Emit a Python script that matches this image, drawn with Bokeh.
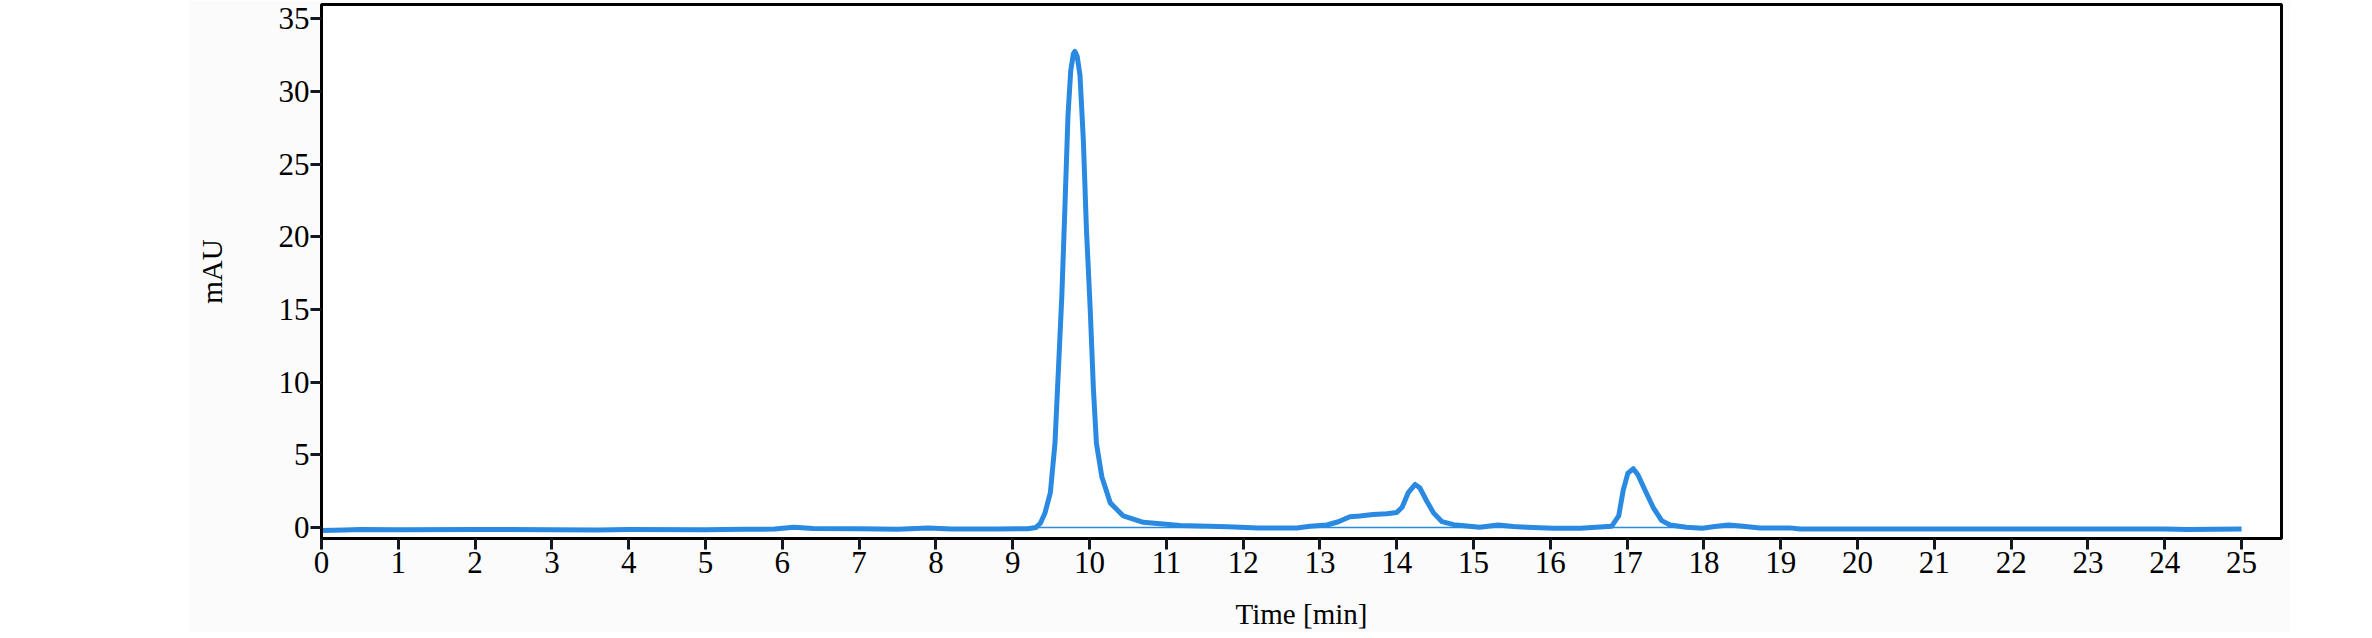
from bokeh.plotting import figure
from bokeh.models import Range1d, FixedTicker, Spacer
from bokeh.layouts import row
from bokeh.embed import file_html
from bokeh.resources import INLINE

# ---- data ----
time_min = [0, 0.3, 0.5, 1.0, 2.0, 3.0, 3.6, 4.0, 5.0, 5.5, 5.9, 6.15, 6.4, 7.0, 7.5, 7.9, 8.2, 8.8,
            9.2, 9.3, 9.36, 9.42, 9.49, 9.55, 9.59, 9.64, 9.68, 9.72, 9.755, 9.79, 9.81, 9.84, 9.876,
            9.92, 9.96, 10.01, 10.05, 10.09, 10.16, 10.27, 10.44, 10.70, 11.18, 11.8, 12.2, 12.7,
            12.87, 13.09, 13.24, 13.39, 13.52, 13.69, 13.87, 14.0, 14.07, 14.15, 14.24, 14.30, 14.39,
            14.48, 14.59, 14.74, 15.08, 15.32, 15.52, 15.69, 16.04, 16.39, 16.80, 16.89, 16.95, 17.01,
            17.08, 17.14, 17.23, 17.34, 17.45, 17.56, 17.77, 17.98, 18.14, 18.32, 18.51, 18.73, 19.12,
            19.25, 20.0, 22.0, 24.0, 24.3, 25.0]
signal_mau = [-0.2, -0.17, -0.13, -0.14, -0.13, -0.14, -0.16, -0.13, -0.14, -0.12, -0.1, 0.02, -0.06,
              -0.08, -0.11, -0.02, -0.09, -0.1,
              -0.08, 0.0, 0.3, 1.0, 2.4, 5.8, 10.3, 16.0, 22.1, 28.4, 31.4, 32.6, 32.75, 32.4, 31.1,
              26.6, 20.5, 14.9, 9.6, 5.8, 3.5, 1.7, 0.8, 0.36, 0.14, 0.05, -0.03, -0.03,
              0.09, 0.18, 0.4, 0.75, 0.8, 0.9, 0.95, 1.04, 1.4, 2.4, 2.97, 2.74, 1.83,
              1.0, 0.41, 0.2, 0.02, 0.18, 0.07, 0.03, -0.05, -0.05, 0.1, 0.8, 2.6, 3.75,
              4.05, 3.64, 2.6, 1.38, 0.48, 0.18, 0.02, -0.05, 0.07, 0.18, 0.09, -0.02, -0.02,
              -0.1, -0.1, -0.1, -0.1, -0.13, -0.1]

# integration baselines drawn under the peaks
baseline_start = [9.3, 12.8, 16.8]
baseline_end = [11.5, 15.9, 18.9]
baseline_level = [0.0, 0.0, 0.0]

x_ticks = list(range(0, 26))
y_ticks = [0, 5, 10, 15, 20, 25, 30, 35]

x_label = "Time [min]"
y_label = "mAU"

BLUE = "#2a8ae2"

p = figure(width=2101, height=632,
           x_range=Range1d(0, 25.52), y_range=Range1d(-0.75, 35.98),
           output_backend="svg", toolbar_location=None,
           min_border_left=132, min_border_right=9, min_border_top=4, min_border_bottom=87)

p.background_fill_color = "#ffffff"
p.border_fill_color = "#fbfbfb"
p.outline_line_color = "black"
p.outline_line_width = 3
p.grid.visible = False

# baselines
p.segment(x0=baseline_start, x1=baseline_end, y0=baseline_level, y1=baseline_level,
          line_color=BLUE, line_width=1.5)
# chromatogram trace
p.line(time_min, signal_mau, line_color=BLUE, line_width=5, line_join="round")

for ax in (p.xaxis, p.yaxis):
    ax.axis_line_color = "black"
    ax.axis_line_width = 3
    ax.major_tick_line_color = "#111820"
    ax.major_tick_line_width = 3
    ax.major_tick_in = 0
    ax.minor_tick_line_color = None
    ax.major_label_text_font = "Liberation Serif"
    ax.major_label_text_font_size = "31px"
    ax.major_label_text_color = "black"
    ax.axis_label_text_font = "Liberation Serif"
    ax.axis_label_text_font_size = "29px"
    ax.axis_label_text_font_style = "normal"
    ax.axis_label_text_color = "black"

p.xaxis.ticker = FixedTicker(ticks=x_ticks)
p.yaxis.ticker = FixedTicker(ticks=y_ticks)
p.xaxis.major_tick_out = 11
p.yaxis.major_tick_out = 11
p.xaxis.major_label_standoff = 2
p.yaxis.major_label_standoff = 1
p.xaxis.axis_label = x_label
p.yaxis.axis_label = y_label
p.xaxis.axis_label_standoff = 22
p.yaxis.axis_label_standoff = 48

layout = row(Spacer(width=189, height=632), p)

open("out.html", "w").write(file_html(layout, INLINE))
